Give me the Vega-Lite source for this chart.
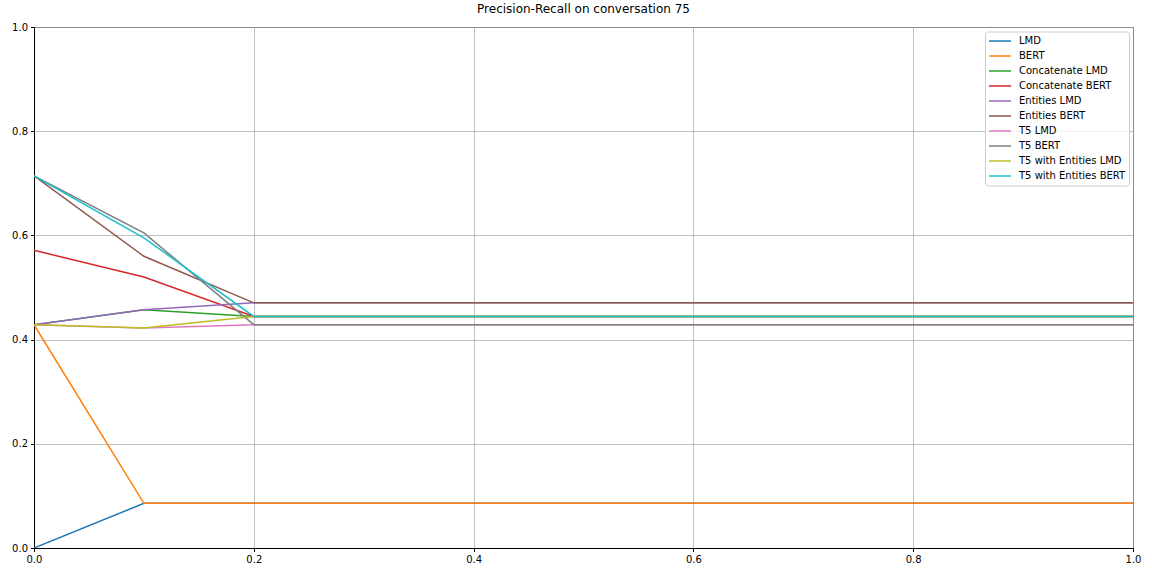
{
  "$schema": "https://vega.github.io/schema/vega-lite/v6.json",
  "width": 1099,
  "height": 521,
  "autosize": {"type": "none"},
  "padding": {"left": 34, "top": 27, "right": 19, "bottom": 28},
  "background": "white",
  "title": {"text": "Precision-Recall on conversation 75", "fontSize": 12, "fontWeight": "normal", "font": "DejaVu Sans", "color": "black", "offset": 6, "anchor": "middle"},
  "config": {
    "view": {"stroke": "black", "strokeWidth": 1},
    "axis": {"labelFont": "DejaVu Sans", "labelFontSize": 10, "labelColor": "black", "tickColor": "black", "domainColor": "black", "gridColor": "#b0b0b0", "gridWidth": 0.8, "tickSize": 3.5, "title": null, "labelPadding": 3, "labelFlush": false, "labelOverlap": false}
  },
  "data": {"values": [
    {"s": "LMD", "r": 0, "p": 0}, {"s": "LMD", "r": 0.1, "p": 0.0857}, {"s": "LMD", "r": 0.2, "p": 0.0857}, {"s": "LMD", "r": 1.0, "p": 0.0857},
    {"s": "BERT", "r": 0, "p": 0.4286}, {"s": "BERT", "r": 0.1, "p": 0.0857}, {"s": "BERT", "r": 0.2, "p": 0.0857}, {"s": "BERT", "r": 1.0, "p": 0.0857},
    {"s": "Concatenate LMD", "r": 0, "p": 0.4286}, {"s": "Concatenate LMD", "r": 0.1, "p": 0.4571}, {"s": "Concatenate LMD", "r": 0.2, "p": 0.4444}, {"s": "Concatenate LMD", "r": 1.0, "p": 0.4444},
    {"s": "Concatenate BERT", "r": 0, "p": 0.5714}, {"s": "Concatenate BERT", "r": 0.1, "p": 0.52}, {"s": "Concatenate BERT", "r": 0.2, "p": 0.4444}, {"s": "Concatenate BERT", "r": 1.0, "p": 0.4444},
    {"s": "Entities LMD", "r": 0, "p": 0.4286}, {"s": "Entities LMD", "r": 0.1, "p": 0.4571}, {"s": "Entities LMD", "r": 0.2, "p": 0.4706}, {"s": "Entities LMD", "r": 1.0, "p": 0.4706},
    {"s": "Entities BERT", "r": 0, "p": 0.7143}, {"s": "Entities BERT", "r": 0.1, "p": 0.56}, {"s": "Entities BERT", "r": 0.2, "p": 0.4706}, {"s": "Entities BERT", "r": 1.0, "p": 0.4706},
    {"s": "T5 LMD", "r": 0, "p": 0.4286}, {"s": "T5 LMD", "r": 0.1, "p": 0.4222}, {"s": "T5 LMD", "r": 0.2, "p": 0.4286}, {"s": "T5 LMD", "r": 1.0, "p": 0.4286},
    {"s": "T5 BERT", "r": 0, "p": 0.7143}, {"s": "T5 BERT", "r": 0.1, "p": 0.6047}, {"s": "T5 BERT", "r": 0.2, "p": 0.4286}, {"s": "T5 BERT", "r": 1.0, "p": 0.4286},
    {"s": "T5 with Entities LMD", "r": 0, "p": 0.4286}, {"s": "T5 with Entities LMD", "r": 0.1, "p": 0.4222}, {"s": "T5 with Entities LMD", "r": 0.2, "p": 0.4444}, {"s": "T5 with Entities LMD", "r": 1.0, "p": 0.4444},
    {"s": "T5 with Entities BERT", "r": 0, "p": 0.7143}, {"s": "T5 with Entities BERT", "r": 0.1, "p": 0.5952}, {"s": "T5 with Entities BERT", "r": 0.2, "p": 0.4444}, {"s": "T5 with Entities BERT", "r": 1.0, "p": 0.4444}
  ]},
  "mark": {"type": "line", "strokeWidth": 1.5, "clip": true},
  "encoding": {
    "x": {"field": "r", "type": "quantitative", "scale": {"domain": [0, 1], "nice": false, "zero": false}, "axis": {"values": [0, 0.2, 0.4, 0.6, 0.8, 1.0], "format": ".1f"}},
    "y": {"field": "p", "type": "quantitative", "scale": {"domain": [0, 1], "nice": false}, "axis": {"values": [0, 0.2, 0.4, 0.6, 0.8, 1.0], "format": ".1f"}},
    "color": {"field": "s", "type": "nominal",
      "scale": {"domain": ["LMD", "BERT", "Concatenate LMD", "Concatenate BERT", "Entities LMD", "Entities BERT", "T5 LMD", "T5 BERT", "T5 with Entities LMD", "T5 with Entities BERT"],
                "range": ["#1f77b4", "#ff7f0e", "#2ca02c", "#d62728", "#9467bd", "#8c564b", "#e377c2", "#7f7f7f", "#bcbd22", "#17becf"]},
      "legend": {"title": null, "orient": "none", "legendX": 951, "legendY": 4.5, "symbolType": "stroke", "symbolSize": 484, "symbolStrokeWidth": 1.5, "labelFont": "DejaVu Sans", "labelFontSize": 10, "labelColor": "black", "labelOffset": 7, "rowPadding": 2, "padding": 3, "fillColor": "rgba(255,255,255,0.8)", "strokeColor": "#cccccc", "cornerRadius": 3, "clipHeight": 13, "labelLimit": 200}
    },
    "order": {"field": "r", "type": "quantitative"}
  }
}
